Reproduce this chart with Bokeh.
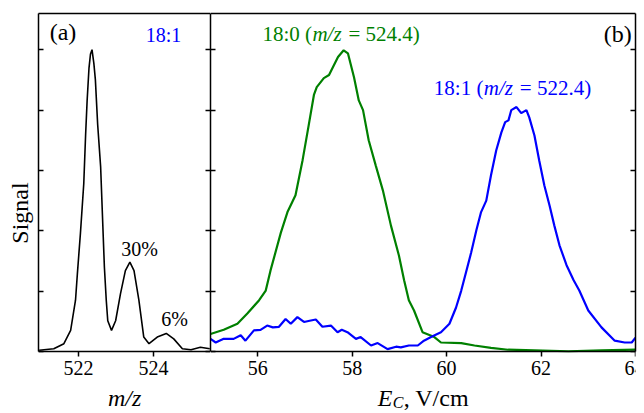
from bokeh.plotting import figure
from bokeh.layouts import row
from bokeh.models import Label, LinearAxis, FixedTicker, Range1d
from bokeh.embed import file_html
from bokeh.resources import INLINE

# ---------------- data ----------------
# panel (a): mass spectrum of 18:1
mz = [520.95, 521.34, 521.61, 521.79, 521.92, 521.97, 522.05, 522.14, 522.19, 522.23,
      522.28, 522.32, 522.36, 522.41, 522.45, 522.51, 522.59, 522.64, 522.69, 522.74,
      522.78, 522.88, 522.99, 523.12, 523.25, 523.37, 523.48, 523.61, 523.74, 523.88,
      524.10, 524.34, 524.54, 524.77, 525.00, 525.25, 525.50]
sig_a = [0.02, 0.045, 0.13, 0.35, 0.85, 1.29, 1.95, 2.78, 3.6, 4.16,
         4.7, 4.93, 5.0, 4.77, 4.5, 3.77, 3.06, 2.23, 1.4, 0.85,
         0.51, 0.35, 0.51, 0.96, 1.34, 1.48, 1.34, 0.85, 0.24, 0.13,
         0.24, 0.30, 0.21, 0.045, 0.03, 0.07, 0.045]

# panel (b): compensation field scans
ec_green = [55.00, 55.28, 55.57, 55.78, 56.03, 56.17, 56.27, 56.49, 56.63, 56.80,
            56.95, 57.08, 57.19, 57.25, 57.40, 57.51, 57.61, 57.70, 57.82, 57.91,
            58.04, 58.14, 58.23, 58.35, 58.50, 58.65, 58.82, 58.99, 59.10, 59.20,
            59.31, 59.49, 59.74, 59.88, 60.31, 60.59, 60.94, 61.30, 61.86, 62.58,
            63.28, 64.00]
sig_green = [0.29, 0.36, 0.46, 0.63, 0.85, 1.01, 1.34, 1.97, 2.31, 2.59,
             3.17, 3.75, 4.25, 4.38, 4.53, 4.58, 4.74, 4.88, 4.99, 4.94,
             4.54, 4.16, 4.00, 3.50, 3.08, 2.67, 2.09, 1.59, 1.18, 0.85,
             0.68, 0.32, 0.24, 0.15, 0.14, 0.10, 0.06, 0.03, 0.02, 0.005,
             0.02, 0.03]

ec_blue = [55.00, 55.11, 55.28, 55.49, 55.64, 55.74, 55.92, 56.06, 56.20, 56.32,
           56.45, 56.59, 56.70, 56.84, 56.98, 57.10, 57.23, 57.37, 57.55, 57.69,
           57.78, 57.90, 58.08, 58.18, 58.40, 58.54, 58.75, 58.93, 59.03, 59.20,
           59.39, 59.52, 59.67, 59.88, 60.06, 60.20, 60.31, 60.41, 60.52, 60.63,
           60.73, 60.84, 60.94, 61.05, 61.16, 61.24, 61.31, 61.37, 61.48, 61.58,
           61.69, 61.75, 61.86, 61.96, 62.07, 62.18, 62.28, 62.39, 62.54, 62.69,
           62.81, 63.00, 63.28, 63.56, 63.77, 63.92, 64.00]
sig_blue = [0.21, 0.15, 0.21, 0.21, 0.27, 0.18, 0.35, 0.36, 0.43, 0.40,
            0.41, 0.54, 0.46, 0.57, 0.49, 0.51, 0.53, 0.41, 0.43, 0.32,
            0.36, 0.32, 0.21, 0.24, 0.10, 0.14, 0.04, 0.08, 0.07, 0.10,
            0.10, 0.18, 0.24, 0.32, 0.46, 0.73, 1.01, 1.31, 1.64, 2.01,
            2.31, 2.50, 2.92, 3.33, 3.63, 3.80, 3.83, 4.00, 4.05, 3.95,
            4.00, 3.88, 3.58, 3.17, 2.75, 2.42, 2.09, 1.76, 1.43, 1.18,
            1.01, 0.68, 0.40, 0.18, 0.15, 0.15, 0.23]

ticks_a = [522, 524]
ticks_b = [56, 58, 60, 62, 64]
ticks_y = [0, 1, 2, 3, 4, 5]
y_top = 5.6

# ---------------- style ----------------
FONT = "Liberation Serif"
GREEN = "#008000"
BLUE = "#0000ff"
TICK_FS = "20px"
TXT_FS = "20px"
LBL_FS = "21px"
TITLE_FS = "24px"
LIFT = 8  # label baseline correction, px
# the frame reaches below the signal axis so that the axis titles sit inside it
Y_RANGE = (-1.01, y_top)
FRAME_H = 399


def base_style(p):
    p.grid.visible = False
    p.outline_line_color = None
    p.background_fill_color = "white"
    p.border_fill_color = "white"


def bottom_axis(ax, ticks):
    ax.fixed_location = 0
    ax.ticker = FixedTicker(ticks=ticks, minor_ticks=[])
    ax.major_tick_out = 5
    ax.major_tick_in = 0
    ax.minor_tick_out = 0
    ax.minor_tick_in = 0
    ax.axis_line_width = 1.5
    ax.major_tick_line_width = 1.5
    ax.major_label_text_font = FONT
    ax.major_label_text_font_size = TICK_FS
    ax.major_label_text_color = "black"
    ax.major_label_standoff = 4


def inner_axis(ax):
    ax.ticker = FixedTicker(ticks=ticks_y, minor_ticks=[])
    ax.bounds = (0, y_top)
    ax.major_tick_in = 5
    ax.major_tick_out = 0
    ax.minor_tick_in = 0
    ax.minor_tick_out = 0
    ax.axis_line_width = 1.5
    ax.major_tick_line_width = 1.5
    ax.major_label_text_font_size = "0px"
    ax.major_label_text_color = None
    ax.major_label_standoff = 0


def top_line(p):
    ax = LinearAxis(ticker=FixedTicker(ticks=[], minor_ticks=[]))
    ax.major_tick_in = 0
    ax.major_tick_out = 0
    ax.minor_tick_in = 0
    ax.minor_tick_out = 0
    ax.axis_line_width = 1.5
    ax.major_label_text_font_size = "0px"
    ax.major_label_text_color = None
    ax.major_label_standoff = 0
    p.add_layout(ax, "above")


def text(p, x, y, s, color="black", size=TXT_FS, style="normal", align="left", dx=0, dy=0):
    p.add_layout(Label(x=x, y=y, x_offset=dx, y_offset=dy + LIFT, text=s, text_font=FONT,
                       text_font_size=size, text_font_style=style, text_color=color,
                       text_align=align, text_baseline="alphabetic"))


# ---------------- panel (a) ----------------
pa = figure(frame_width=172, frame_height=FRAME_H,
            min_border_left=38, min_border_right=0, min_border_top=13, min_border_bottom=0,
            x_range=Range1d(520.933, 525.52), y_range=Range1d(*Y_RANGE),
            output_backend="svg", toolbar_location=None)
base_style(pa)
bottom_axis(pa.xaxis[0], ticks_a)
inner_axis(pa.yaxis[0])
pa.yaxis[0].axis_label = "Signal"
pa.yaxis[0].axis_label_text_font = FONT
pa.yaxis[0].axis_label_text_font_size = TITLE_FS
pa.yaxis[0].axis_label_text_font_style = "normal"
pa.yaxis[0].axis_label_text_color = "black"
pa.yaxis[0].axis_label_standoff = 6
ra = LinearAxis()
inner_axis(ra)
pa.add_layout(ra, "right")
top_line(pa)

pa.line(mz, sig_a, line_color="black", line_width=1.6)

text(pa, 521.23, 5.16, "(a)", size="24px")
text(pa, 523.79, 5.11, "18:1", color=BLUE)
text(pa, 523.63, 1.56, "30%", align="center")
text(pa, 524.56, 0.40, "6%", align="center")
text(pa, 523.23, -0.91, "m/z", size=TITLE_FS, style="italic", align="center")

# ---------------- panel (b) ----------------
pb = figure(frame_width=425, frame_height=FRAME_H,
            min_border_left=0, min_border_right=9, min_border_top=13, min_border_bottom=0,
            x_range=Range1d(55, 64), y_range=Range1d(*Y_RANGE),
            output_backend="svg", toolbar_location=None)
base_style(pb)
bottom_axis(pb.xaxis[0], ticks_b)
inner_axis(pb.yaxis[0])
rb = LinearAxis()
inner_axis(rb)
pb.add_layout(rb, "right")
top_line(pb)

pb.line(ec_green, sig_green, line_color=GREEN, line_width=2.2)
pb.line(ec_blue, sig_blue, line_color=BLUE, line_width=2.2)

text(pb, 63.92, 5.12, "(b)", size="24px", align="right")


def mz_label(p, x, y, color, head, tail):
    text(p, x, y, head, color=color, size=LBL_FS)
    text(p, x, y, "m/z", color=color, size=LBL_FS, style="italic", dx=50)
    text(p, x, y, tail, color=color, size=LBL_FS, dx=86)


mz_label(pb, 56.10, 5.12, GREEN, "18:0 (", "= 524.4)")
mz_label(pb, 59.73, 4.24, BLUE, "18:1 (", "= 522.4)")

# axis title  E_C, V/cm
text(pb, 58.54, -0.91, "E", size=TITLE_FS, style="italic")
text(pb, 58.54, -0.91, "C", size="16px", style="italic", dx=15, dy=-4)
text(pb, 58.54, -0.91, ", V/cm", size=TITLE_FS, dx=26)

layout = row(pa, pb, spacing=0)
open("out.html", "w").write(file_html(layout, INLINE))
